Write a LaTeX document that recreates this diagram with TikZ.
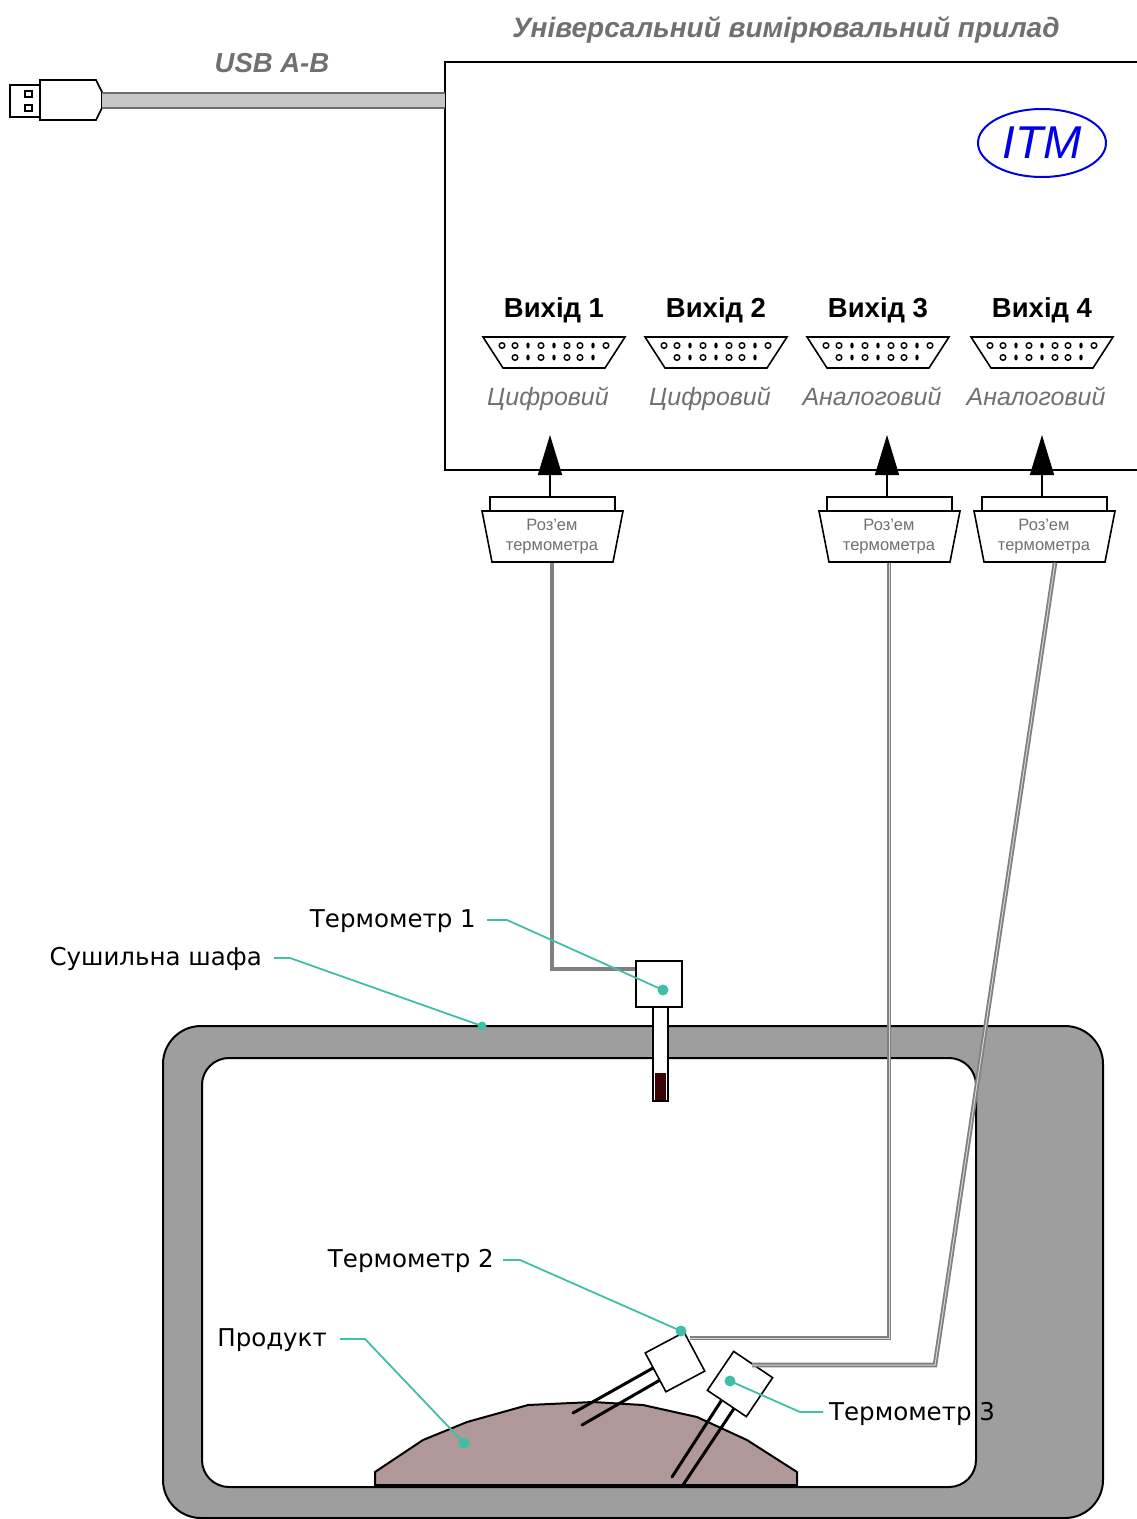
\documentclass[tikz,border=0pt]{standalone}
\usepackage{fontspec}
\setmainfont{Liberation Sans}
\newfontfamily\calloutfont{DejaVu Sans}
\usetikzlibrary{arrows.meta,shapes.geometric}

\definecolor{cablegray}{RGB}{128,128,128}
\definecolor{wallgray}{RGB}{158,158,158}
\definecolor{leadteal}{RGB}{64,190,168}
\definecolor{textgray}{RGB}{112,112,112}
\definecolor{productfill}{RGB}{176,152,152}
\definecolor{tipred}{RGB}{58,4,4}
\definecolor{itmblue}{RGB}{0,0,230}

\begin{document}
\begin{tikzpicture}[x=1pt, y=-1pt,
  every node/.style={inner sep=0pt},
  callout/.style={font=\calloutfont\fontsize{24.5}{24.5}\selectfont},
  outlabel/.style={font=\bfseries\fontsize{27.5}{27.5}\selectfont},
  kindlabel/.style={font=\itshape\fontsize{25}{25}\selectfont, text=textgray},
  headlabel/.style={font=\bfseries\itshape\fontsize{28}{28}\selectfont, text=textgray},
  lead/.style={draw=leadteal, line width=1.8pt},
  leaddot/.style={circle, fill=leadteal, minimum size=11pt},
  cable/.style={draw=cablegray, line width=4pt},
  twincable/.style={draw=cablegray, double=cablegray!35, double distance=1pt, line width=1.8pt},
  usbcable/.style={draw=cablegray!85!black, line width=2pt, double=gray!45, double distance=13pt},
  plugarrow/.style={-{Triangle[length=40pt,width=24pt]}, line width=1.6pt},
  probe/.style={draw, fill=white, line width=1.6pt, minimum size=46pt},
  leg/.style={line width=3pt, line cap=round}
]
\useasboundingbox (0,0) rectangle (1137,1519);

% drying cabinet and product
\draw[fill=wallgray, even odd rule, line width=2pt, rounded corners=38pt]
  (163,1026) rectangle (1103,1518) [rounded corners=27pt] (202,1058) rectangle (976,1487);
\draw[fill=productfill, line width=2pt] (375,1485) -- (375,1472) -- (423,1440) -- (467,1422)
  -- (528,1405) -- (593,1402) -- (643,1405) -- (697,1417) -- (747,1440) -- (797,1472)
  -- (797,1485) -- cycle;

% measuring device
\draw[line width=2pt] (1140,62) -- (445,62) -- (445,470) -- (1140,470);
\node[headlabel, anchor=mid] (title) at (786,35) {Універсальний вимірювальний прилад};
\node[draw=itmblue, ellipse, line width=2pt, minimum width=128pt, minimum height=68pt,
  text=itmblue, font=\itshape\fontsize{46}{46}\selectfont] (itm) at (1042,143) {ITM};

% usb plug and cable
\node[draw, line width=1.6pt, minimum width=30pt, minimum height=32pt] (plug) at (25,101) {};
\draw[line width=1.2pt] (25,91) rectangle (32,97) (25,105) rectangle (32,111);
\draw[line width=1.6pt, fill=white] (40,80) -- (96,80) -- (102,92) -- (102,108) -- (96,120)
  -- (40,120) -- cycle;
\coordinate (usbbody) at (102,100);
\coordinate (usbin) at (445,100);
\draw[usbcable] (usbbody) -- (usbin);
\node[headlabel, font=\bfseries\itshape\fontsize{27.5}{27.5}\selectfont, anchor=mid] (usb) at (272,70) {USB A-B};

% outputs
\foreach \x/\n/\kind in {554/1/Цифровий, 716/2/Цифровий, 878/3/Аналоговий, 1042/4/Аналоговий} {
  \node[outlabel, anchor=mid] (out\n) at (\x,315) {Вихід \n};
  \draw[line width=1.6pt] (\x-71,337) -- (\x+71,337) -- (\x+51,368) -- (\x-51,368) -- cycle;
  \foreach \i in {0,1,3,5,6,8} \draw[line width=1.4pt] (\x-52+13*\i,345.5) circle (2.8);
  \foreach \i in {2,4,7} \fill (\x-52+13*\i,345.5) ellipse (1.7 and 3);
  \foreach \i in {0,2,4,5} \draw[line width=1.4pt] (\x-39+13*\i,357.5) circle (2.8);
  \foreach \i in {1,3,6} \fill (\x-39+13*\i,357.5) ellipse (1.7 and 3);
  \node[kindlabel, anchor=mid] (kind\n) at (\x-6,403) {\kind};
}

% thermometer plugs
\foreach \x/\n in {552/1, 889/3, 1044/4} {
  \draw[line width=1.6pt, fill=white] (\x-62,497) rectangle (\x+63,511);
  \draw[line width=1.6pt, fill=white] (\x-70,511) -- (\x+71,511) -- (\x+61,562) -- (\x-60,562) -- cycle;
  \node[font=\fontsize{16.5}{20}\selectfont, text=textgray, align=center, minimum height=51pt]
    (tc\n) at (\x,537) {Роз'ем\\термометра};
  \coordinate (tcp\n) at (\x-2,497);
  \draw[plugarrow] (tcp\n) -- ++(0,-62);
}

% thermometer 1 in the wall
\draw[line width=1.6pt, fill=white] (653,1005) rectangle (668,1101);
\fill[tipred] (655,1073) rectangle (666,1100);
\node[probe] (t1) at (659,984) {};

% thermometers 2 and 3 in the product
\draw[leg] (653,1368) -- (573,1413) (660,1380) -- (582,1425);
\draw[leg] (723,1398) -- (672,1477) (735,1407) -- (683,1485);
\node[probe, rotate=28, minimum size=44pt] (t2) at (675,1362) {};
\node[probe, rotate=-34, minimum size=47pt] (t3) at (740,1384) {};

% cables
\coordinate (t2in) at (690,1338);
\coordinate (t3bend) at (935,1365);
\coordinate (t3in) at (752,1365);
\draw[cable] (tc1.south) |- ([yshift=15pt]t1.west);
\draw[twincable] (tc3.south) |- (t2in);
\draw[twincable] ([xshift=11pt]tc4.south) -- (t3bend) -- (t3in);

% callouts
\coordinate (d1) at (663,990);
\coordinate (dwall) at (482,1026);
\coordinate (d2) at (681,1331);
\coordinate (d3) at (730,1381);
\coordinate (dprod) at (464,1443);
\node[callout, anchor=mid east] (l1) at (476,925) {Термометр 1};
\node[callout, anchor=mid east] (lwall) at (262,963) {Сушильна шафа};
\node[callout, anchor=mid east] (l2) at (494,1265) {Термометр 2};
\node[callout, anchor=mid east] (lprod) at (327,1344) {Продукт};
\node[callout, anchor=mid west] (l3) at (829,1418) {Термометр 3};
\draw[lead] ([xshift=11pt,yshift=5pt]l1.mid east) -- ++(20,0) -- (d1);
\draw[lead] ([xshift=12pt,yshift=5pt]lwall.mid east) -- ++(16,0) -- (dwall);
\draw[lead] ([xshift=9pt,yshift=5pt]l2.mid east) -- ++(17,0) -- (d2);
\draw[lead] ([xshift=13pt,yshift=5pt]lprod.mid east) -- ++(25,0) -- (dprod);
\draw[lead] ([xshift=-6pt,yshift=6pt]l3.mid west) -- ++(-23,0) -- (d3);
\foreach \d in {d1,d2,d3,dprod} \node[leaddot] at (\d) {};
\node[leaddot, minimum size=9pt] at (dwall) {};
\end{tikzpicture}
\end{document}
